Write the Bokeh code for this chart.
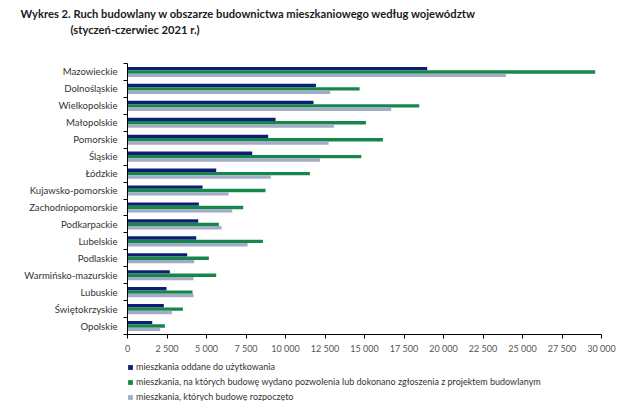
import numpy as np
from bokeh.plotting import figure
from bokeh.layouts import column
from bokeh.models import Range1d, FixedTicker, Legend, LegendItem, Title
from bokeh.embed import file_html
from bokeh.resources import INLINE

# ---- data ----
regions = ["Mazowieckie", "Dolnośląskie", "Wielkopolskie", "Małopolskie", "Pomorskie",
           "Śląskie", "Łódzkie", "Kujawsko-pomorskie", "Zachodniopomorskie", "Podkarpackie",
           "Lubelskie", "Podlaskie", "Warmińsko-mazurskie", "Lubuskie", "Świętokrzyskie", "Opolskie"]
oddane = [18970, 11925, 11775, 9370, 8905, 7895, 5615, 4750, 4520, 4475, 4350, 3780, 2680, 2470, 2300, 1565]
pozwolenia = [29600, 14690, 18465, 15090, 16165, 14795, 11545, 8735, 7325, 5785, 8570, 5150, 5615, 4115, 3505, 2365]
rozpoczete = [23950, 12830, 16690, 13065, 12725, 12180, 9075, 6395, 6630, 5950, 7600, 4220, 4180, 4180, 2810, 2070]
series_names = ["mieszkania oddane do użytkowania",
                "mieszkania, na których budowę wydano pozwolenia lub dokonano zgłoszenia z projektem budowlanym",
                "mieszkania, których budowę rozpoczęto"]
x_ticks = [0, 2500, 5000, 7500, 10000, 12500, 15000, 17500, 20000, 22500, 25000, 27500, 30000]
x_tick_labels = ["0", "2 500", "5 000", "7 500", "10 000", "12 500", "15 000", "17 500",
                 "20 000", "22 500", "25 000", "27 500", "30 000"]
title_line1 = "Wykres 2. Ruch budowlany w obszarze budownictwa mieszkaniowego  według województw"
title_line2 = "(styczeń-czerwiec 2021 r.)"

colors = ["#0c1f74", "#16874a", "#a3acc6"]
FONT = "Lato"

n = len(regions)
idx = np.arange(n)

p = figure(frame_width=474, frame_height=271, output_backend="svg", toolbar_location=None,
           x_range=Range1d(0, 30000), y_range=Range1d(n - 0.5, -0.5),
           min_border_left=127, min_border_right=17, min_border_top=0, min_border_bottom=0)
p.outline_line_color = None
p.xgrid.visible = False
p.ygrid.visible = False

bh = 0.2
p.hbar(y=idx - bh, left=0, right=oddane, height=bh, fill_color=colors[0], line_color=None)
p.hbar(y=idx, left=0, right=pozwolenia, height=bh, fill_color=colors[1], line_color=None)
p.hbar(y=idx + bh, left=0, right=rozpoczete, height=bh, fill_color=colors[2], line_color=None)

p.yaxis.ticker = FixedTicker(ticks=list(idx), minor_ticks=[i - 0.5 for i in range(n + 1)])
p.yaxis.major_label_overrides = {int(i): regions[i] for i in range(n)}
p.yaxis.major_tick_out = 0
p.yaxis.major_tick_in = 0
p.yaxis.minor_tick_out = 4
p.yaxis.minor_tick_in = 0
p.yaxis.major_label_standoff = 6
p.yaxis.major_label_text_font = FONT
p.yaxis.major_label_text_font_size = "9.6px"
p.yaxis.major_label_text_color = "#333333"
p.yaxis.axis_line_color = "#000000"
p.yaxis.minor_tick_line_color = "#000000"

p.xaxis.ticker = FixedTicker(ticks=x_ticks)
p.xaxis.major_label_overrides = {x_ticks[i]: x_tick_labels[i] for i in range(len(x_ticks))}
p.xaxis.major_tick_out = 4
p.xaxis.major_tick_in = 0
p.xaxis.minor_tick_out = 0
p.xaxis.minor_tick_in = 0
p.xaxis.major_label_standoff = 4
p.xaxis.major_label_text_font = FONT
p.xaxis.major_label_text_font_size = "9px"
p.xaxis.major_label_text_color = "#555555"
p.xaxis.axis_line_color = "#000000"
p.xaxis.major_tick_line_color = "#000000"

title_style = dict(align="left", text_font=FONT, text_font_size="11.2px",
                   text_font_style="bold", text_color="#1a1a1a")
spacer = Title(text=" ", standoff=15, **title_style)
t2 = Title(text=title_line2, offset=-57, standoff=-5, **title_style)
t1 = Title(text=title_line1, offset=-107, standoff=8, **title_style)
p.add_layout(spacer, "above")
p.add_layout(t2, "above")
p.add_layout(t1, "above")

# ---- legend strip (separate figure, frame aligned with the chart) ----
pl = figure(frame_width=474, frame_height=40, output_backend="svg", toolbar_location=None,
            x_range=Range1d(0, 1), y_range=Range1d(0, 1),
            min_border_left=127, min_border_right=17, min_border_top=5, min_border_bottom=0)
pl.outline_line_color = None
pl.axis.visible = False
pl.xgrid.visible = False
pl.ygrid.visible = False
# legend-only swatch renderers, kept outside the visible range
l1 = pl.hbar(y=[-5], left=[0], right=[1], height=0.1, fill_color=colors[0], line_color=None)
l2 = pl.hbar(y=[-5], left=[0], right=[1], height=0.1, fill_color=colors[1], line_color=None)
l3 = pl.hbar(y=[-5], left=[0], right=[1], height=0.1, fill_color=colors[2], line_color=None)
legend = Legend(items=[LegendItem(label=series_names[0], renderers=[l1]),
                       LegendItem(label=series_names[1], renderers=[l2]),
                       LegendItem(label=series_names[2], renderers=[l3])],
                location="top_left", orientation="vertical",
                glyph_width=6, glyph_height=6, label_height=10, spacing=4,
                padding=0, margin=0, label_standoff=3,
                label_text_font=FONT, label_text_font_size="9px", label_text_color="#333333",
                border_line_color=None, background_fill_alpha=0)
pl.add_layout(legend)

layout = column(p, pl, spacing=0)
open("out.html", "w").write(file_html(layout, INLINE))
